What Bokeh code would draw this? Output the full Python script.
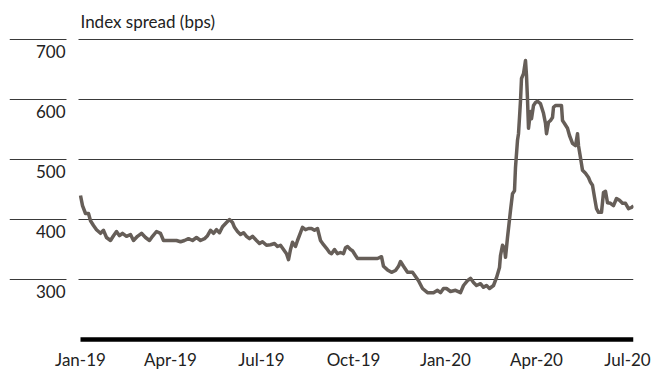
import pandas as pd
from bokeh.plotting import figure
from bokeh.models import Range1d, FixedTicker, BoxAnnotation, ColumnDataSource
from bokeh.core.properties import value
from bokeh.embed import file_html
from bokeh.resources import INLINE

# ---- data ----
dates = [
    "2019-01-01", "2019-01-03", "2019-01-06", "2019-01-09", "2019-01-11", "2019-01-14", "2019-01-17",
    "2019-01-21", "2019-01-24", "2019-01-27", "2019-01-31", "2019-02-03", "2019-02-06", "2019-02-09",
    "2019-02-12", "2019-02-16", "2019-02-20", "2019-02-23", "2019-02-27", "2019-03-03", "2019-03-07",
    "2019-03-11", "2019-03-14", "2019-03-18", "2019-03-22", "2019-03-25", "2019-03-29", "2019-04-03",
    "2019-04-07", "2019-04-11", "2019-04-15", "2019-04-19", "2019-04-23", "2019-04-27", "2019-05-01",
    "2019-05-05", "2019-05-08", "2019-05-11", "2019-05-14", "2019-05-17", "2019-05-20", "2019-05-23",
    "2019-05-27", "2019-05-30", "2019-06-02", "2019-06-04", "2019-06-07", "2019-06-10", "2019-06-13",
    "2019-06-16", "2019-06-19", "2019-06-22", "2019-06-26", "2019-06-29", "2019-07-02", "2019-07-06",
    "2019-07-10", "2019-07-14", "2019-07-17", "2019-07-20", "2019-07-23", "2019-07-26", "2019-07-28",
    "2019-07-30", "2019-08-01", "2019-08-04", "2019-08-06", "2019-08-09", "2019-08-11", "2019-08-14",
    "2019-08-17", "2019-08-20", "2019-08-23", "2019-08-26", "2019-08-29", "2019-09-01", "2019-09-04",
    "2019-09-07", "2019-09-09", "2019-09-12", "2019-09-15", "2019-09-18", "2019-09-21", "2019-09-23",
    "2019-09-25", "2019-09-28", "2019-09-30", "2019-10-03", "2019-10-05", "2019-10-08", "2019-10-18",
    "2019-10-25", "2019-10-29", "2019-10-31", "2019-11-04", "2019-11-08", "2019-11-12", "2019-11-15",
    "2019-11-17", "2019-11-20", "2019-11-24", "2019-11-29", "2019-12-02", "2019-12-05", "2019-12-09",
    "2019-12-14", "2019-12-20", "2019-12-24", "2019-12-27", "2019-12-30", "2020-01-02", "2020-01-06",
    "2020-01-11", "2020-01-16", "2020-01-19", "2020-01-23", "2020-01-26", "2020-01-29", "2020-02-01",
    "2020-02-05", "2020-02-08", "2020-02-11", "2020-02-14", "2020-02-18", "2020-02-21", "2020-02-24",
    "2020-02-25", "2020-02-27", "2020-02-29", "2020-03-01", "2020-03-03", "2020-03-06", "2020-03-08",
    "2020-03-10", "2020-03-11", "2020-03-13", "2020-03-14", "2020-03-15", "2020-03-16", "2020-03-17",
    "2020-03-19", "2020-03-21", "2020-03-22", "2020-03-23", "2020-03-24", "2020-03-26", "2020-03-27",
    "2020-03-29", "2020-03-31", "2020-04-02", "2020-04-05", "2020-04-08", "2020-04-10", "2020-04-11",
    "2020-04-13", "2020-04-15", "2020-04-17", "2020-04-18", "2020-04-20", "2020-04-24", "2020-04-26",
    "2020-04-27", "2020-04-29", "2020-05-02", "2020-05-04", "2020-05-07", "2020-05-10", "2020-05-12",
    "2020-05-13", "2020-05-15", "2020-05-17", "2020-05-20", "2020-05-23", "2020-05-25", "2020-05-27",
    "2020-05-29", "2020-05-31", "2020-06-02", "2020-06-05", "2020-06-07", "2020-06-09", "2020-06-11",
    "2020-06-14", "2020-06-17", "2020-06-20", "2020-06-23", "2020-06-26", "2020-06-29", "2020-07-02",
    "2020-07-05", "2020-07-07",
]
spread = [
    440, 423, 410, 410, 398, 390, 383,
    377, 382, 370, 365, 373, 380, 373,
    377, 372, 375, 365, 372, 377, 370,
    365, 372, 380, 377, 365, 365, 365,
    365, 363, 365, 368, 365, 370, 365,
    368, 373, 382, 377, 383, 378, 388,
    395, 400, 395, 387, 380, 375, 378,
    372, 368, 372, 365, 360, 363, 357,
    358, 360, 355, 357, 350, 343, 333,
    350, 362, 355, 365, 378, 387, 383,
    385, 385, 382, 385, 365, 358, 352,
    345, 343, 350, 343, 345, 343, 353,
    355, 350, 348, 340, 335, 335, 335,
    335, 338, 322, 316, 312, 315, 322,
    330, 322, 312, 312, 305, 298, 285,
    278, 278, 282, 278, 285, 285, 280,
    282, 278, 290, 298, 302, 295, 290,
    293, 287, 290, 285, 290, 303, 320,
    340, 357, 352, 337, 370, 415, 443,
    448, 487, 532, 543, 570, 598, 635,
    643, 665, 640, 600, 552, 580, 568,
    590, 595, 597, 593, 577, 560, 543,
    562, 565, 570, 587, 590, 590, 590,
    565, 560, 552, 540, 527, 523, 543,
    523, 503, 482, 477, 470, 462, 457,
    437, 418, 412, 412, 445, 447, 428,
    427, 423, 435, 432, 427, 427, 418,
    420, 423,
]
y_ticks = [300, 400, 500, 600, 700]
y_labels = ["300", "400", "500", "600", "700"]
x_tick_dates = ["2019-01-01", "2019-04-01", "2019-07-01", "2019-10-01",
                "2020-01-01", "2020-04-01", "2020-07-01"]
x_tick_labels = ["Jan-19", "Apr-19", "Jul-19", "Oct-19", "Jan-20", "Apr-20", "Jul-20"]
title_text = "Index spread (bps)"

y_start, y_end = 195, 765
baseline = 200

# ---- styling ----
FONT = "Lato"
TEXT_COLOR = "#222222"
LINE_COLOR = "#665e58"
GRID_COLOR = "#3a3a3a"

d = pd.to_datetime(dates)
first, last = d[0], d[-1]
left_pad = pd.Timedelta(days=71)
label_x = first - pd.Timedelta(days=15)

src = ColumnDataSource(dict(date=d, spread=spread))

p = figure(
    frame_width=624, frame_height=342,
    x_axis_type="datetime", y_axis_location=None,
    x_range=Range1d(first - left_pad, last),
    y_range=Range1d(y_start, y_end),
    output_backend="svg", toolbar_location=None,
    min_border_left=9, min_border_right=20, min_border_top=0, min_border_bottom=28,
    outline_line_color=None, background_fill_color="white", border_fill_color="white",
)

# grid
p.xgrid.grid_line_color = None
p.ygrid.ticker = FixedTicker(ticks=y_ticks)
p.ygrid.grid_line_color = GRID_COLOR
p.ygrid.grid_line_width = 1

# gap between left tick stubs and plot lines
p.add_layout(BoxAnnotation(left=first - pd.Timedelta(days=14), right=first - pd.Timedelta(days=2),
                           fill_color="white", fill_alpha=1.0, line_alpha=0))

# x axis
tick_ms = [pd.Timestamp(t).value // 10**6 for t in x_tick_dates]
xa = p.xaxis[0]
xa.ticker = FixedTicker(ticks=tick_ms)
xa.major_label_overrides = {float(t): lab for t, lab in zip(tick_ms, x_tick_labels)}
xa.axis_line_color = None
xa.major_tick_line_color = None
xa.minor_tick_line_color = None
xa.major_tick_out = 0
xa.major_tick_in = 0
xa.major_label_standoff = 6
xa.major_label_text_font = FONT
xa.major_label_text_font_size = "17px"
xa.major_label_text_color = TEXT_COLOR

# baseline bar
p.segment(x0=[first], x1=[last], y0=[baseline], y1=[baseline],
          line_color="black", line_width=4.5)

# series
p.line("date", "spread", source=src, line_color=LINE_COLOR, line_width=3.5, line_join="round")

# y labels (below their grid lines)
p.text(x=[label_x] * len(y_ticks), y=y_ticks, text=y_labels,
       text_font=value(FONT), text_font_size="17px", text_color=TEXT_COLOR,
       text_align="right", text_baseline="middle", y_offset=12)

# title
p.text(x=[first], y=[y_end], text=[title_text],
       text_font=value(FONT), text_font_size="17px", text_color=TEXT_COLOR,
       text_align="left", text_baseline="middle", y_offset=21)

open("out.html", "w").write(file_html(p, INLINE))
